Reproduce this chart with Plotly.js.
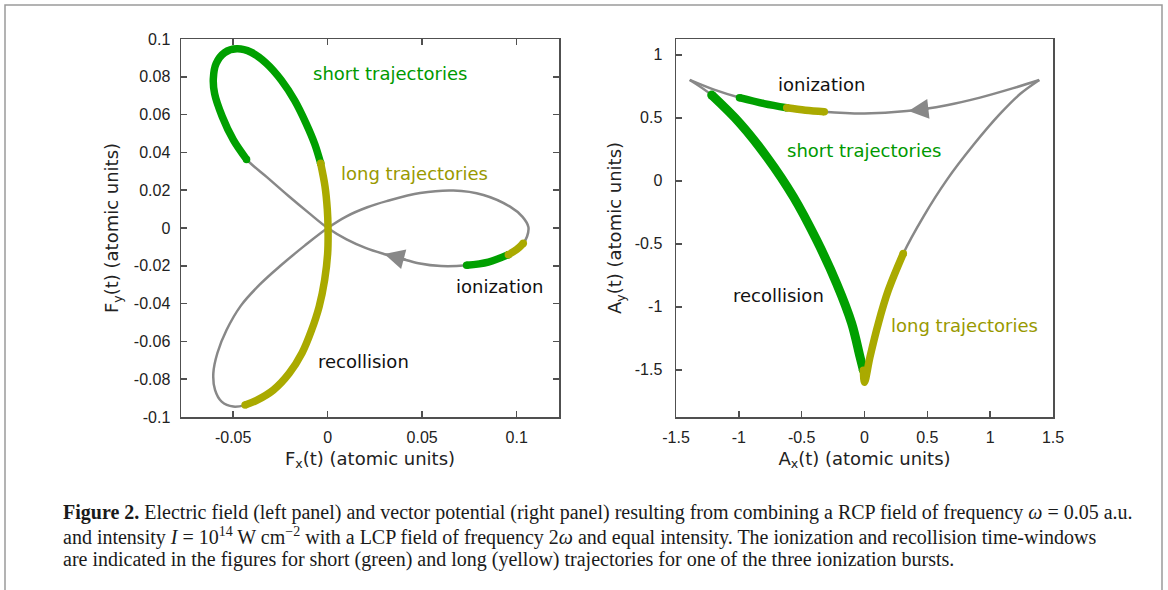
<!DOCTYPE html>
<html><head><meta charset="utf-8">
<script src="https://cdn.plot.ly/plotly-3.0.1.min.js"></script>
<style>html,body{margin:0;padding:0;background:#fff;overflow:hidden}#chart{width:1168px;height:590px}</style>
</head><body><div id="chart"></div>
<script>
// ---------- Left panel: electric field F(t) (atomic units), one closed loop ----------
const fieldLoopX = [-0.0480,-0.0405,-0.0325,-0.0245,-0.0175,-0.0115,-0.0068,-0.0037,-0.0014,-0.0002,0.0002,0.0000,-0.0016,-0.0045,-0.0085,-0.0135,-0.0203,-0.0287,-0.0376,-0.0437,-0.0499,-0.0561,-0.0596,-0.0605,-0.0583,-0.0535,-0.0460,-0.0360,-0.0250,-0.0120,0.0000,0.0100,0.0210,0.0312,0.0489,0.0665,0.0824,0.0965,0.1030,0.1062,0.1055,0.1035,0.1000,0.0956,0.0850,0.0735,0.0600,0.0480,0.0383,0.0290,0.0200,0.0100,0.0000,-0.0100,-0.0210,-0.0320,-0.0429,-0.0499,-0.0558,-0.0598,-0.0605,-0.0590,-0.0545,-0.0480,-0.0405];
const fieldLoopY = [0.0948,0.0930,0.0872,0.0782,0.0675,0.0555,0.0443,0.0342,0.0220,0.0100,0.0000,-0.0134,-0.0275,-0.0416,-0.0540,-0.0660,-0.0768,-0.0857,-0.0912,-0.0937,-0.0945,-0.0919,-0.0857,-0.0769,-0.0660,-0.0540,-0.0412,-0.0300,-0.0200,-0.0092,0.0000,0.0062,0.0110,0.0142,0.0185,0.0198,0.0175,0.0113,0.0060,0.0005,-0.0045,-0.0081,-0.0114,-0.0141,-0.0180,-0.0197,-0.0201,-0.0186,-0.0160,-0.0135,-0.0105,-0.0060,0.0000,0.0080,0.0172,0.0268,0.0363,0.0466,0.0590,0.0710,0.0790,0.0870,0.0928,0.0948,0.0930];

const fieldIonLongX  = [0.1035,0.1000,0.0956];
const fieldIonLongY  = [-0.0081,-0.0114,-0.0141];
const fieldIonShortX = [0.0956,0.0850,0.0735];
const fieldIonShortY = [-0.0141,-0.0180,-0.0197];
const fieldRecShortX = [-0.0429,-0.0499,-0.0558,-0.0598,-0.0605,-0.0590,-0.0545,-0.0480,-0.0405,-0.0325,-0.0245,-0.0175,-0.0115,-0.0068,-0.0037];
const fieldRecShortY = [0.0363,0.0466,0.0590,0.0710,0.0790,0.0870,0.0928,0.0948,0.0930,0.0872,0.0782,0.0675,0.0555,0.0443,0.0342];
const fieldRecLongX  = [-0.0037,-0.0014,-0.0002,0.0002,0.0000,-0.0016,-0.0045,-0.0085,-0.0135,-0.0203,-0.0287,-0.0376,-0.0437];
const fieldRecLongY  = [0.0342,0.0220,0.0100,0.0000,-0.0134,-0.0275,-0.0416,-0.0540,-0.0660,-0.0768,-0.0857,-0.0912,-0.0937];

const fieldArrowTip  = [0.0300,-0.0138];
const fieldArrowTail = [0.0420,-0.0170];

const fieldXTicks = [-0.05,0,0.05,0.1];
const fieldXTickText = ['-0.05','0','0.05','0.1'];
const fieldYTicks = [-0.1,-0.08,-0.06,-0.04,-0.02,0,0.02,0.04,0.06,0.08,0.1];
const fieldYTickText = ['-0.1','-0.08','-0.06','-0.04','-0.02','0','0.02','0.04','0.06','0.08','0.1'];

// ---------- Right panel: vector potential A(t) (atomic units), three cusped arcs ----------
const potTopArcX   = [1.391,1.184,0.919,0.654,0.336,0.000,-0.327,-0.619,-0.990,-1.203,-1.391];
const potTopArcY   = [0.800,0.735,0.660,0.600,0.553,0.534,0.548,0.579,0.659,0.725,0.800];
const potLeftArcX  = [-1.391,-1.216,-0.990,-0.778,-0.566,-0.381,-0.222,-0.102,-0.036,-0.009,0.000];
const potLeftArcY  = [0.800,0.680,0.455,0.190,-0.127,-0.471,-0.815,-1.132,-1.397,-1.503,-1.600];
const potRightArcX = [0.000,0.044,0.110,0.190,0.309,0.468,0.654,0.866,1.078,1.240,1.391];
const potRightArcY = [-1.600,-1.397,-1.132,-0.868,-0.577,-0.286,0.005,0.283,0.530,0.690,0.800];

const potIonLongX  = [-0.320,-0.470,-0.619];
const potIonLongY  = [0.548,0.560,0.579];
const potIonShortX = [-0.619,-0.800,-0.995];
const potIonShortY = [0.579,0.612,0.659];
const potRecShortX = [-1.216,-0.990,-0.778,-0.566,-0.381,-0.222,-0.102,-0.036,-0.009];
const potRecShortY = [0.680,0.455,0.190,-0.127,-0.471,-0.815,-1.132,-1.397,-1.503];
const potRecLongX  = [-0.009,0.000,0.044,0.110,0.190,0.309];
const potRecLongY  = [-1.503,-1.600,-1.397,-1.132,-0.868,-0.577];

const potArrowTip  = [0.350,0.553];
const potArrowTail = [0.520,0.572];

const potXTicks = [-1.5,-1,-0.5,0,0.5,1,1.5];
const potXTickText = ['-1.5','-1','-0.5','0','0.5','1','1.5'];
const potYTicks = [-1.5,-1,-0.5,0,0.5,1];
const potYTickText = ['-1.5','-1','-0.5','0','0.5','1'];
const potY2Ticks = [-1.375,-0.875,-0.375,0.125,0.625];

// ---------- Caption ----------
const captionLines = [
  '<b>Figure 2.</b> Electric field (left panel) and vector potential (right panel) resulting from combining a RCP field of frequency <i>ω</i> = 0.05 a.u.',
  'and intensity <i>I</i> = 10<sup>14</sup> W cm<sup>−2</sup> with a LCP field of frequency 2<i>ω</i> and equal intensity. The ionization and recollision time-windows',
  'are indicated in the figures for short (green) and long (yellow) trajectories for one of the three ionization bursts.'
];

// ---------- styles ----------
const W = 1168, H = 590;
const px = v => v / W;
const py = v => 1 - v / H;
const GRAY = '#888888', GREEN = '#00a000', OLIVE = '#aaaa00';
const GREEN_TXT = '#009900', OLIVE_TXT = '#999900';
const AXC = '#505050';
const tickFont = {family: 'Liberation Sans, Arial, sans-serif', size: 16, color: '#222'};
const titleFont = {family: 'DejaVu Sans, sans-serif', size: 18, color: '#222'};
const labelFont = c => ({family: 'DejaVu Sans, sans-serif', size: 18, color: c});

function line(x, y, color, width, xa, ya) {
  return {x: x, y: y, xaxis: xa, yaxis: ya, type: 'scatter', mode: 'lines',
          line: {color: color, width: width, shape: 'spline', smoothing: 1}, hoverinfo: 'skip'};
}
function caps(x, y, color, width, xa, ya) {
  return {x: [x[0], x[x.length - 1]], y: [y[0], y[y.length - 1]], xaxis: xa, yaxis: ya,
          type: 'scatter', mode: 'markers', marker: {color: color, size: width, line: {width: 0}}, hoverinfo: 'skip'};
}

const TH = 7.5;
const data = [
  line(fieldLoopX, fieldLoopY, GRAY, 2.5, 'x', 'y'),
  line(fieldIonShortX, fieldIonShortY, GREEN, TH, 'x', 'y'), caps(fieldIonShortX, fieldIonShortY, GREEN, TH, 'x', 'y'),
  line(fieldIonLongX, fieldIonLongY, OLIVE, TH, 'x', 'y'), caps(fieldIonLongX, fieldIonLongY, OLIVE, TH, 'x', 'y'),
  line(fieldRecShortX, fieldRecShortY, GREEN, TH, 'x', 'y'), caps(fieldRecShortX, fieldRecShortY, GREEN, TH, 'x', 'y'),
  line(fieldRecLongX, fieldRecLongY, OLIVE, TH, 'x', 'y'), caps(fieldRecLongX, fieldRecLongY, OLIVE, TH, 'x', 'y'),

  line(potTopArcX, potTopArcY, GRAY, 2.5, 'x2', 'y2'),
  line(potLeftArcX, potLeftArcY, GRAY, 2.5, 'x2', 'y2'),
  line(potRightArcX, potRightArcY, GRAY, 2.5, 'x2', 'y2'),
  line(potIonShortX, potIonShortY, GREEN, TH, 'x2', 'y2'), caps(potIonShortX, potIonShortY, GREEN, TH, 'x2', 'y2'),
  line(potIonLongX, potIonLongY, OLIVE, TH, 'x2', 'y2'), caps(potIonLongX, potIonLongY, OLIVE, TH, 'x2', 'y2'),
  line(potRecShortX, potRecShortY, GREEN, 9, 'x2', 'y2'), caps(potRecShortX, potRecShortY, GREEN, 9, 'x2', 'y2'),
  line(potRecLongX, potRecLongY, OLIVE, TH, 'x2', 'y2'), caps(potRecLongX, potRecLongY, OLIVE, TH, 'x2', 'y2')
];

function axisBase(extra) {
  return Object.assign({ticks: 'inside', ticklen: 6, tickwidth: 1.5, tickcolor: AXC,
    showline: true, linecolor: AXC, linewidth: 1.5, showgrid: false, zeroline: false,
    tickfont: tickFont, tickmode: 'array', fixedrange: true}, extra);
}

function textAnn(text, x, y, color, xa, ya) {
  return {text: text, x: x, y: y, xref: xa, yref: ya, xanchor: 'left', yanchor: 'middle',
          showarrow: false, font: labelFont(color)};
}
function arrowAnn(tip, tail, xa, ya) {
  return {text: '', x: tip[0], y: tip[1], ax: tail[0], ay: tail[1], xref: xa, yref: ya,
          axref: xa, ayref: ya, showarrow: true, arrowhead: 2, arrowsize: 1.6, arrowwidth: 2.5,
          arrowcolor: GRAY, standoff: 0, startstandoff: 0};
}

const annotations = [
  textAnn('short trajectories', -0.0088, 0.082, GREEN_TXT, 'x', 'y'),
  textAnn('long trajectories', 0.0060, 0.029, OLIVE_TXT, 'x', 'y'),
  textAnn('ionization', 0.0668, -0.031, '#111', 'x', 'y'),
  textAnn('recollision', -0.0062, -0.0707, '#111', 'x', 'y'),
  textAnn('ionization', -0.704, 0.76, '#111', 'x2', 'y2'),
  textAnn('short trajectories', -0.633, 0.244, GREEN_TXT, 'x2', 'y2'),
  textAnn('recollision', -1.062, -0.907, '#111', 'x2', 'y2'),
  textAnn('long trajectories', 0.195, -1.145, OLIVE_TXT, 'x2', 'y2'),
  arrowAnn(fieldArrowTip, fieldArrowTail, 'x', 'y'),
  arrowAnn(potArrowTip, potArrowTail, 'x2', 'y2')
];
const captionY = [512, 536, 559];
captionLines.forEach((t, i) => annotations.push({
  text: t, x: px(61), y: py(captionY[i]), xref: 'paper', yref: 'paper', xanchor: 'left', yanchor: 'middle',
  showarrow: false, align: 'left', font: {family: 'Liberation Serif, Times New Roman, serif', size: 20, color: '#1a1a1a'}
}));

const layout = {
  width: W, height: H, margin: {l: 0, r: 0, t: 0, b: 0}, autosize: false,
  paper_bgcolor: '#fff', plot_bgcolor: '#fff', showlegend: false,
  xaxis: axisBase({domain: [px(181), px(559)], range: [-0.0776, 0.1224], anchor: 'y',
    tickvals: fieldXTicks, ticktext: fieldXTickText, mirror: 'ticks', ticklabelstandoff: 5,
    title: {text: 'F<sub>x</sub>(t) (atomic units)', font: titleFont, standoff: 7}}),
  yaxis: axisBase({domain: [py(417), py(39)], range: [-0.1, 0.1], anchor: 'x',
    tickvals: fieldYTicks, ticktext: fieldYTickText, mirror: 'ticks', ticklabelstandoff: 6,
    title: {text: 'F<sub>y</sub>(t) (atomic units)', font: titleFont, standoff: 10}}),
  xaxis2: axisBase({domain: [px(676), px(1053)], range: [-1.5, 1.5], anchor: 'y2',
    tickvals: potXTicks, ticktext: potXTickText, mirror: true, ticklabelstandoff: 5,
    title: {text: 'A<sub>x</sub>(t) (atomic units)', font: titleFont, standoff: 7}}),
  yaxis2: axisBase({domain: [py(417), py(39)], range: [-1.875, 1.125], anchor: 'x2',
    tickvals: potYTicks, ticktext: potYTickText, mirror: true, ticklabelstandoff: 9,
    title: {text: 'A<sub>y</sub>(t) (atomic units)', font: titleFont, standoff: 8}}),
  yaxis3: axisBase({overlaying: 'y2', side: 'right', anchor: 'x2', range: [-1.875, 1.125],
    tickvals: potY2Ticks, showticklabels: false, showline: false}),
  annotations: annotations,
  shapes: [{type: 'rect', xref: 'paper', yref: 'paper', x0: px(5), x1: px(1162), y0: py(605), y1: py(5),
            line: {color: '#9a9a9a', width: 1.5}, fillcolor: 'rgba(0,0,0,0)', layer: 'below'}]
};

Plotly.newPlot('chart', data, layout, {staticPlot: true, displayModeBar: false});
</script></body></html>
